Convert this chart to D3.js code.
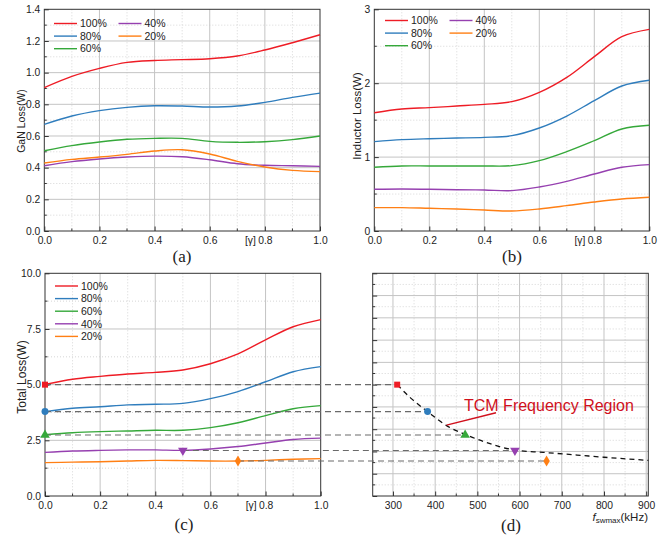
<!DOCTYPE html>
<html>
<head>
<meta charset="utf-8">
<script src="https://cdn.jsdelivr.net/npm/d3@7"></script>
<style>
  body { margin: 0; background: #fff; }
  svg { display: block; }
  text { font-family: "Liberation Sans", Arial, sans-serif; fill: #222; }
</style>
</head>
<body>
<svg id="fig" width="669" height="538"></svg>
<script>
// ---- data -------------------------------------------------------------
const gamma = [0, 0.1, 0.2, 0.3, 0.4, 0.5, 0.6, 0.7, 0.8, 0.9, 1.0];
const loadLevels = ["100%", "80%", "60%", "40%", "20%"];
const seriesColors = ["#ee1c25", "#2f7dbd", "#35a83a", "#9640b0", "#ff7f14"];

// GaN loss (W) per load level, sampled at gamma
const ganLoss = [
  [0.905, 0.976, 1.027, 1.065, 1.077, 1.082, 1.088, 1.105, 1.143, 1.189, 1.239],
  [0.673, 0.726, 0.760, 0.781, 0.791, 0.789, 0.783, 0.789, 0.812, 0.844, 0.871],
  [0.507, 0.539, 0.562, 0.579, 0.585, 0.585, 0.566, 0.560, 0.564, 0.577, 0.600],
  [0.412, 0.438, 0.455, 0.467, 0.473, 0.469, 0.450, 0.425, 0.415, 0.412, 0.408],
  [0.429, 0.452, 0.467, 0.484, 0.505, 0.513, 0.486, 0.440, 0.404, 0.383, 0.375]
];
// Inductor loss (W)
const inductorLoss = [
  [1.601, 1.651, 1.669, 1.691, 1.714, 1.750, 1.876, 2.079, 2.359, 2.630, 2.729],
  [1.209, 1.236, 1.249, 1.258, 1.267, 1.290, 1.394, 1.556, 1.764, 1.962, 2.039],
  [0.862, 0.880, 0.880, 0.880, 0.880, 0.884, 0.952, 1.074, 1.222, 1.380, 1.430],
  [0.564, 0.568, 0.564, 0.559, 0.555, 0.546, 0.595, 0.672, 0.771, 0.862, 0.898],
  [0.316, 0.316, 0.307, 0.298, 0.284, 0.271, 0.298, 0.343, 0.392, 0.433, 0.456]
];
// Total loss (W)
const totalLoss = [
  [5.01, 5.24, 5.37, 5.48, 5.55, 5.66, 5.94, 6.38, 7.01, 7.60, 7.92],
  [3.79, 3.94, 4.01, 4.09, 4.12, 4.16, 4.37, 4.69, 5.13, 5.58, 5.81],
  [2.75, 2.84, 2.89, 2.92, 2.95, 2.95, 3.07, 3.29, 3.61, 3.92, 4.06],
  [1.96, 2.02, 2.05, 2.07, 2.07, 2.05, 2.11, 2.22, 2.38, 2.54, 2.60],
  [1.50, 1.52, 1.54, 1.57, 1.60, 1.59, 1.57, 1.57, 1.60, 1.65, 1.68]
];

// selected operating points (gamma, total loss, max switching frequency)
const markGamma = [0, 0, 0, 0.5, 0.7];
const markLoss = [5.0, 3.79, 2.74, 2.04, 1.57];
const markFreq = [310, 382, 471, 589, 664];

// TCM frequency boundary
const tcmFreq = [310, 345, 382, 427, 472, 530, 589, 656, 736, 800, 905];
const tcmLoss = [5.0, 4.35, 3.79, 3.16, 2.76, 2.35, 2.06, 1.96, 1.84, 1.74, 1.60];

const gammaTicks = [0, 0.2, 0.4, 0.6, 0.8, 1.0];
const freqTicks = [300, 400, 500, 600, 700, 800, 900];

// ---- helpers ----------------------------------------------------------
const svg = d3.select("#fig");
const range = (a, b, s) => d3.range(a, b + s / 2, s).map(v => +v.toFixed(6));
const tickFont = "10.3px";

function panel(o) {
  const g = svg.append("g");
  const x = d3.scaleLinear().domain(o.xDom).range([o.x0, o.x1]);
  const y = d3.scaleLinear().domain(o.yDom).range([o.y1, o.y0]);
  const inside = (v, d) => v > d[0] + 1e-9 && v < d[1] - 1e-9;
  const grid = g.append("g");
  // minor grid (dotted)
  o.xMinor.filter(v => inside(v, o.xDom)).forEach(v =>
    grid.append("line").attr("x1", x(v)).attr("x2", x(v)).attr("y1", o.y0).attr("y2", o.y1)
      .attr("stroke", "#d6d6d6").attr("stroke-dasharray", "1,2"));
  o.yMinor.filter(v => inside(v, o.yDom)).forEach(v =>
    grid.append("line").attr("y1", y(v)).attr("y2", y(v)).attr("x1", o.x0).attr("x2", o.x1)
      .attr("stroke", "#d6d6d6").attr("stroke-dasharray", "1,2"));
  // major grid (solid)
  o.xMajor.filter(v => inside(v, o.xDom)).forEach(v =>
    grid.append("line").attr("x1", x(v)).attr("x2", x(v)).attr("y1", o.y0).attr("y2", o.y1)
      .attr("stroke", "#c4c4c4"));
  o.yMajor.filter(v => inside(v, o.yDom)).forEach(v =>
    grid.append("line").attr("y1", y(v)).attr("y2", y(v)).attr("x1", o.x0).attr("x2", o.x1)
      .attr("stroke", "#c4c4c4"));

  // axes with inward ticks
  const bottom = d3.axisBottom(x).tickValues(o.xMajor).tickSizeInner(-4.5).tickSizeOuter(0)
    .tickFormat(o.xFmt);
  const left = d3.axisLeft(y).tickValues(o.yMajor).tickSizeInner(-4.5).tickSizeOuter(0)
    .tickFormat(o.yFmt);
  const bx = g.append("g").attr("transform", `translate(0,${o.y1})`).call(bottom);
  const ly = g.append("g").attr("transform", `translate(${o.x0},0)`).call(left);
  bx.select(".domain").remove();
  ly.select(".domain").remove();
  [bx, ly].forEach(a => {
    a.selectAll("line").attr("stroke", "#333");
    a.selectAll("text").style("font-family", "Liberation Sans, Arial, sans-serif")
      .style("font-size", tickFont).attr("fill", "#222");
  });
  bx.selectAll("text").attr("y", 6).attr("dy", "0.71em");
  ly.selectAll("text").attr("x", -4);
  // minor ticks
  o.xMinor.filter(v => inside(v, o.xDom)).forEach(v =>
    g.append("line").attr("x1", x(v)).attr("x2", x(v)).attr("y1", o.y1).attr("y2", o.y1 - 2.5)
      .attr("stroke", "#333"));
  o.yMinor.filter(v => inside(v, o.yDom)).forEach(v =>
    g.append("line").attr("y1", y(v)).attr("y2", y(v)).attr("x1", o.x0).attr("x2", o.x0 + 2.5)
      .attr("stroke", "#333"));
  // frame
  g.append("rect").attr("x", o.x0).attr("y", o.y0).attr("width", o.x1 - o.x0)
    .attr("height", o.y1 - o.y0).attr("fill", "none").attr("stroke", "#333").attr("stroke-width", 1);
  return { g, x, y };
}

function curves(p, data) {
  const line = d3.line().x((d, i) => p.x(gamma[i])).y(d => p.y(d))
    .curve(d3.curveCatmullRom.alpha(0.5));
  data.forEach((s, k) =>
    p.g.append("path").attr("d", line(s)).attr("fill", "none")
      .attr("stroke", seriesColors[k]).attr("stroke-width", 1.4));
}

function legend(p, layout, x0, y0) {
  layout.forEach(([k, col, row]) => {
    const lx = x0 + col * 64.5, ly = y0 + row * 12.6;
    p.g.append("line").attr("x1", lx).attr("x2", lx + 23).attr("y1", ly).attr("y2", ly)
      .attr("stroke", seriesColors[k]).attr("stroke-width", 1.4);
    p.g.append("text").attr("x", lx + 26).attr("y", ly).attr("dy", "0.36em")
      .style("font-size", "10.5px").text(loadLevels[k]);
  });
}

function yTitle(x, y, label, size) {
  svg.append("text").attr("transform", `translate(${x},${y}) rotate(-90)`)
    .attr("text-anchor", "middle").style("font-size", size + "px").text(label);
}

function gammaLabel(p) {
  svg.append("text").attr("x", p.x(0.8) - 9).attr("y", p.y.range()[0] + 6).attr("dy", "0.71em")
    .attr("text-anchor", "end").style("font-size", tickFont).text("[γ]");
}

function caption(x, y, t) {
  svg.append("text").attr("x", x).attr("y", y).attr("text-anchor", "middle").attr("dy", "0.35em")
    .style("font-family", "Liberation Serif, Times New Roman, serif").style("font-size", "17px")
    .text(t);
}

const f1 = d3.format(".1f");
const twoCol = [[0, 0, 0], [1, 0, 1], [2, 0, 2], [3, 1, 0], [4, 1, 1]];

// ---- (a) GaN loss -----------------------------------------------------
const pa = panel({
  x0: 44.3, x1: 320, y0: 9.3, y1: 231, xDom: [0, 1], yDom: [0, 1.4],
  xMajor: gammaTicks, xMinor: range(0.1, 0.9, 0.2),
  yMajor: range(0, 1.4, 0.2), yMinor: range(0.1, 1.3, 0.2), xFmt: f1, yFmt: f1
});
curves(pa, ganLoss);
legend(pa, twoCol, 54, 23.5);
yTitle(24.5, 121, "GaN Loss(W)", 10.5);
gammaLabel(pa);
caption(182, 256, "(a)");

// ---- (b) inductor loss --------------------------------------------------
const pb = panel({
  x0: 374.3, x1: 649.3, y0: 9.3, y1: 231, xDom: [0, 1], yDom: [0, 3],
  xMajor: gammaTicks, xMinor: range(0.1, 0.9, 0.2),
  yMajor: [0, 1, 2, 3], yMinor: [0.5, 1.5, 2.5], xFmt: f1, yFmt: d3.format("d")
});
curves(pb, inductorLoss);
legend(pb, twoCol, 385, 20.5);
yTitle(360.5, 116, "Inductor Loss(W)", 11.5);
gammaLabel(pb);
caption(512, 256, "(b)");

// ---- (c) total loss -----------------------------------------------------
const pc = panel({
  x0: 45, x1: 320.7, y0: 273.3, y1: 496, xDom: [0, 1], yDom: [0, 10],
  xMajor: gammaTicks, xMinor: range(0.1, 0.9, 0.2),
  yMajor: [0, 2.5, 5, 7.5, 10], yMinor: [1.25, 3.75, 6.25, 8.75], xFmt: f1, yFmt: f1
});
curves(pc, totalLoss);
legend(pc, [[0, 0, 0], [1, 0, 1], [2, 0, 2], [3, 0, 3], [4, 0, 4]], 55, 286);
yTitle(25.5, 377, "Total Loss(W)", 12);
gammaLabel(pc);
caption(184, 524, "(c)");

// ---- (d) switching frequency -------------------------------------------
const pd = panel({
  x0: 372.7, x1: 648.3, y0: 273.3, y1: 496, xDom: [252, 905], yDom: [0, 10],
  xMajor: freqTicks, xMinor: range(350, 850, 100),
  yMajor: range(0, 10, 1), yMinor: range(0.5, 9.5, 1), xFmt: d3.format("d"), yFmt: () => ""
});
caption(511, 525, "(d)");

// frequency axis title with subscript
const ft = svg.append("text").attr("x", 648).attr("y", 520.5).attr("text-anchor", "end")
  .style("font-size", "11.5px");
ft.append("tspan").style("font-style", "italic").text("f");
ft.append("tspan").attr("dy", 2.5).style("font-size", "8px").text("swmax");
ft.append("tspan").attr("dy", -2.5).text("(kHz)");

// boundary curve
const tcmLine = d3.line().x((d, i) => pd.x(tcmFreq[i])).y(d => pd.y(d)).curve(d3.curveMonotoneX);
pd.g.append("path").attr("d", tcmLine(tcmLoss)).attr("fill", "none")
  .attr("stroke", "#111").attr("stroke-width", 1.3).attr("stroke-dasharray", "5,4");

// connecting dashed guides from (c) to (d)
markLoss.forEach((v, k) => {
  svg.append("line").attr("x1", pc.x(markGamma[k])).attr("x2", pd.x(markFreq[k]))
    .attr("y1", pc.y(v)).attr("y2", pc.y(v))
    .attr("stroke", "#6a6a6a").attr("stroke-width", 1.1).attr("stroke-dasharray", "6,4");
});

// markers
const shapes = [d3.symbolSquare, d3.symbolCircle, d3.symbolTriangle, d3.symbolTriangle, d3.symbolDiamond];
const rot = [0, 0, 0, 180, 0];
const sizes = [36, 38, 40, 40, 36];
markLoss.forEach((v, k) => {
  const sym = d3.symbol().type(shapes[k]).size(sizes[k]);
  [[pc.x(markGamma[k]), pc.y(v)], [pd.x(markFreq[k]), pd.y(v)]].forEach(([cx, cy]) =>
    svg.append("path").attr("d", sym()).attr("fill", seriesColors[k])
      .attr("transform", `translate(${cx},${cy}) rotate(${rot[k]})`));
});

// annotation
const red = "#d0101c";
svg.append("line").attr("x1", pd.x(427)).attr("y1", pd.y(3.16) - 0.5)
  .attr("x2", 496).attr("y2", 412.7).attr("stroke", red).attr("stroke-width", 1.5);
svg.append("text").attr("x", 464).attr("y", 410.5).style("font-size", "16px")
  .attr("fill", red).style("fill", red).text("TCM Frequency Region");
</script>
</body>
</html>
